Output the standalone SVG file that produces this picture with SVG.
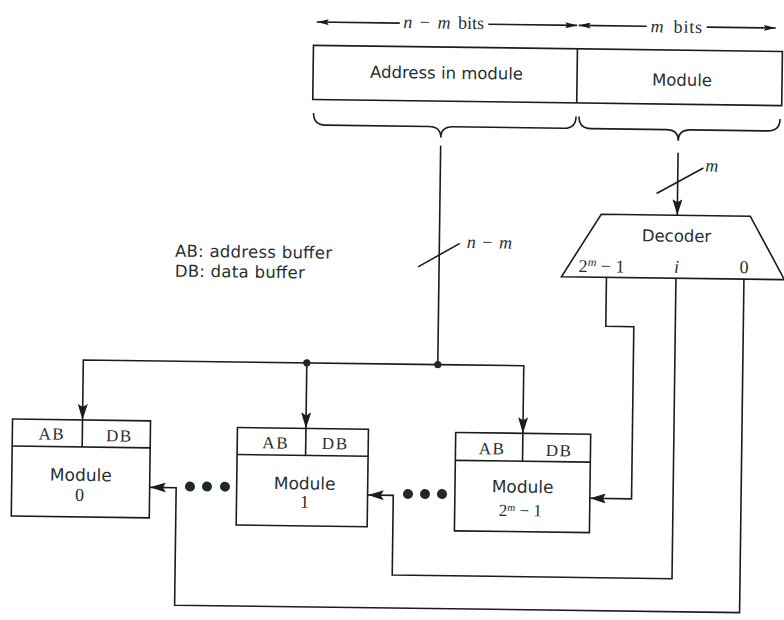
<svg xmlns="http://www.w3.org/2000/svg" width="784" height="620" viewBox="0 0 784 620">
<style>
.ln{fill:none;stroke:#1c1c1c;stroke-width:1.6}
.bx{fill:#fff;stroke:#1c1c1c;stroke-width:1.6}
.sans{font-family:"DejaVu Sans","Liberation Sans",sans-serif;fill:#263030}
.serif{font-family:"Liberation Serif","DejaVu Serif",serif;fill:#263030}
.it{font-style:italic}
.dot{fill:#1e2a28}
.hd{font-size:17px;letter-spacing:1.5px}
</style>
<defs>
<marker id="arr" viewBox="0 0 16 10" refX="16" refY="5" markerWidth="16" markerHeight="10" markerUnits="userSpaceOnUse" orient="auto">
<path d="M0,0 L16,5 L0,10 L3,5 z" fill="#1c1c1c"/>
</marker>
<marker id="sarr" viewBox="0 0 12 6" refX="12" refY="3" markerWidth="12" markerHeight="6" markerUnits="userSpaceOnUse" orient="auto">
<path d="M0,0 L12,3 L0,6 L2,3 z" fill="#1c1c1c"/>
</marker>
</defs>
<rect x="0" y="0" width="784" height="620" fill="#fff"/>
<g transform="rotate(0.75 392 310)">

<g id="connectors">
<path class="ln" d="M396,23 H313" marker-end="url(#sarr)"/>
<path class="ln" d="M484.5,23 H573.5" marker-end="url(#sarr)"/>
<path class="ln" d="M643,23 H575" marker-end="url(#sarr)"/>
<path class="ln" d="M703,23 H772" marker-end="url(#sarr)"/>
<path class="ln" d="M311,114 C311,122 315,126 323,126 L426.5,126 C434.5,126 438.5,129 438.5,137 C438.5,129 442.5,126 450.5,126 L561.5,126 C569.5,126 573.5,122 573.5,114"/>
<path class="ln" d="M576.5,114 C576.5,122 580.5,126 588.5,126 L664,126 C672,126 676,129 676,137 C676,129 680,126 688,126 L765.5,126 C773.5,126 777.5,122 777.5,114"/>
<path class="ln" d="M438.5,145 V364"/>
<path class="ln" d="M438.5,364 H84 V424" marker-end="url(#arr)"/>
<path class="ln" d="M438.5,364 H524.5 V431.6" marker-end="url(#arr)"/>
<path class="ln" d="M307.5,364 V429.5" marker-end="url(#arr)"/>
<circle class="dot" cx="307.5" cy="364" r="3.6"/>
<circle class="dot" cx="438.5" cy="364" r="3.6"/>
<path class="ln" d="M417.5,266.5 L459,242.5" stroke-width="1.2"/>
<path class="ln" d="M676,149 V211.5" marker-end="url(#arr)"/>
<path class="ln" d="M655,190 L701.5,164" stroke-width="1.2"/>
<path class="ln" d="M606,274.5 V323.5 H634 V495.7 H592.3" marker-end="url(#arr)"/>
<path class="ln" d="M675.5,274.5 V575 H395.7 V495.3 H370.2" marker-end="url(#arr)"/>
<path class="ln" d="M743.5,274.5 V608 H178.5 V490.5 H152.3" marker-end="url(#arr)"/>
</g>

<g id="dimension-labels">
<text class="serif" x="440" y="28" font-size="18" text-anchor="middle" word-spacing="3"><tspan class="it">n</tspan> − <tspan class="it">m</tspan> bits</text>
<text class="serif" x="673" y="29" font-size="18" text-anchor="middle" word-spacing="4" letter-spacing="0.8"><tspan class="it">m</tspan> bits</text>
<text class="serif it" x="710" y="167.5" font-size="18" text-anchor="middle">m</text>
<text class="serif" x="488.5" y="247" font-size="18" text-anchor="middle" word-spacing="2"><tspan class="it">n</tspan> − <tspan class="it">m</tspan></text>
</g>

<g id="address-register">
<rect class="bx" x="310" y="46.4" width="469" height="54.1"/>
<line class="ln" x1="574" y1="46.4" x2="574" y2="100.5"/>
<text class="sans" x="443.5" y="78" font-size="16.5" text-anchor="middle" textLength="153">Address in module</text>
<text class="sans" x="679" y="82" font-size="16.5" text-anchor="middle">Module</text>
</g>

<g id="decoder">
<path class="bx" d="M600,211.5 L749,211.5 L784,274.5 L561,274.5 z"/>
<text class="sans" x="675.5" y="238" font-size="16.5" text-anchor="middle">Decoder</text>
<text class="serif" x="601" y="269.5" font-size="18" text-anchor="middle">2<tspan class="it" font-size="12" dy="-6">m</tspan><tspan dy="6"> − 1</tspan></text>
<text class="serif it" x="676" y="269" font-size="18" text-anchor="middle">i</text>
<text class="serif" x="743.5" y="268.5" font-size="18" text-anchor="middle">0</text>
</g>

<g id="legend">
<text class="sans" x="174.3" y="259.5" font-size="16.5" textLength="157">AB: address buffer</text>
<text class="sans" x="174.3" y="279.5" font-size="16.5" textLength="130">DB: data buffer</text>
</g>

<g id="module-0">
<rect class="bx" x="14" y="424" width="138" height="97"/>
<line class="ln" x1="14" y1="451" x2="152" y2="451"/>
<line class="ln" x1="84" y1="424" x2="84" y2="451"/>
<text class="serif hd" x="53.5" y="444" text-anchor="middle">AB</text>
<text class="serif hd" x="121" y="445" text-anchor="middle">DB</text>
<text class="sans" x="83" y="485" font-size="17" text-anchor="middle">Module</text>
<text class="serif" x="82" y="505" font-size="18" text-anchor="middle">0</text>
</g>

<g id="module-1">
<rect class="bx" x="239" y="429.5" width="131" height="97.5"/>
<line class="ln" x1="239" y1="456.5" x2="370" y2="456.5"/>
<line class="ln" x1="307.5" y1="429.5" x2="307.5" y2="456.5"/>
<text class="serif hd" x="277.5" y="450" text-anchor="middle">AB</text>
<text class="serif hd" x="337" y="450" text-anchor="middle">DB</text>
<text class="sans" x="307" y="490.5" font-size="17" text-anchor="middle">Module</text>
<text class="serif" x="307" y="509" font-size="18" text-anchor="middle">1</text>
</g>

<g id="module-2m-1">
<rect class="bx" x="457.3" y="431.6" width="135" height="98.4"/>
<line class="ln" x1="457.3" y1="459.5" x2="592.3" y2="459.5"/>
<line class="ln" x1="524.5" y1="431.6" x2="524.5" y2="459.5"/>
<text class="serif hd" x="494" y="453" text-anchor="middle">AB</text>
<text class="serif hd" x="561" y="454" text-anchor="middle">DB</text>
<text class="sans" x="525" y="491" font-size="17" text-anchor="middle">Module</text>
<text class="serif" x="523" y="514.5" font-size="17" text-anchor="middle">2<tspan class="it" font-size="11" dy="-5">m</tspan><tspan dy="5"> − 1</tspan></text>
</g>

<g id="ellipses">
<circle class="dot" cx="192.3" cy="489.2" r="5"/>
<circle class="dot" cx="209.3" cy="489" r="5"/>
<circle class="dot" cx="227.3" cy="488.8" r="5"/>
<circle class="dot" cx="410.4" cy="493.8" r="5"/>
<circle class="dot" cx="427.4" cy="493.6" r="5"/>
<circle class="dot" cx="444.4" cy="493.4" r="5"/>
</g>

</g>
</svg>
